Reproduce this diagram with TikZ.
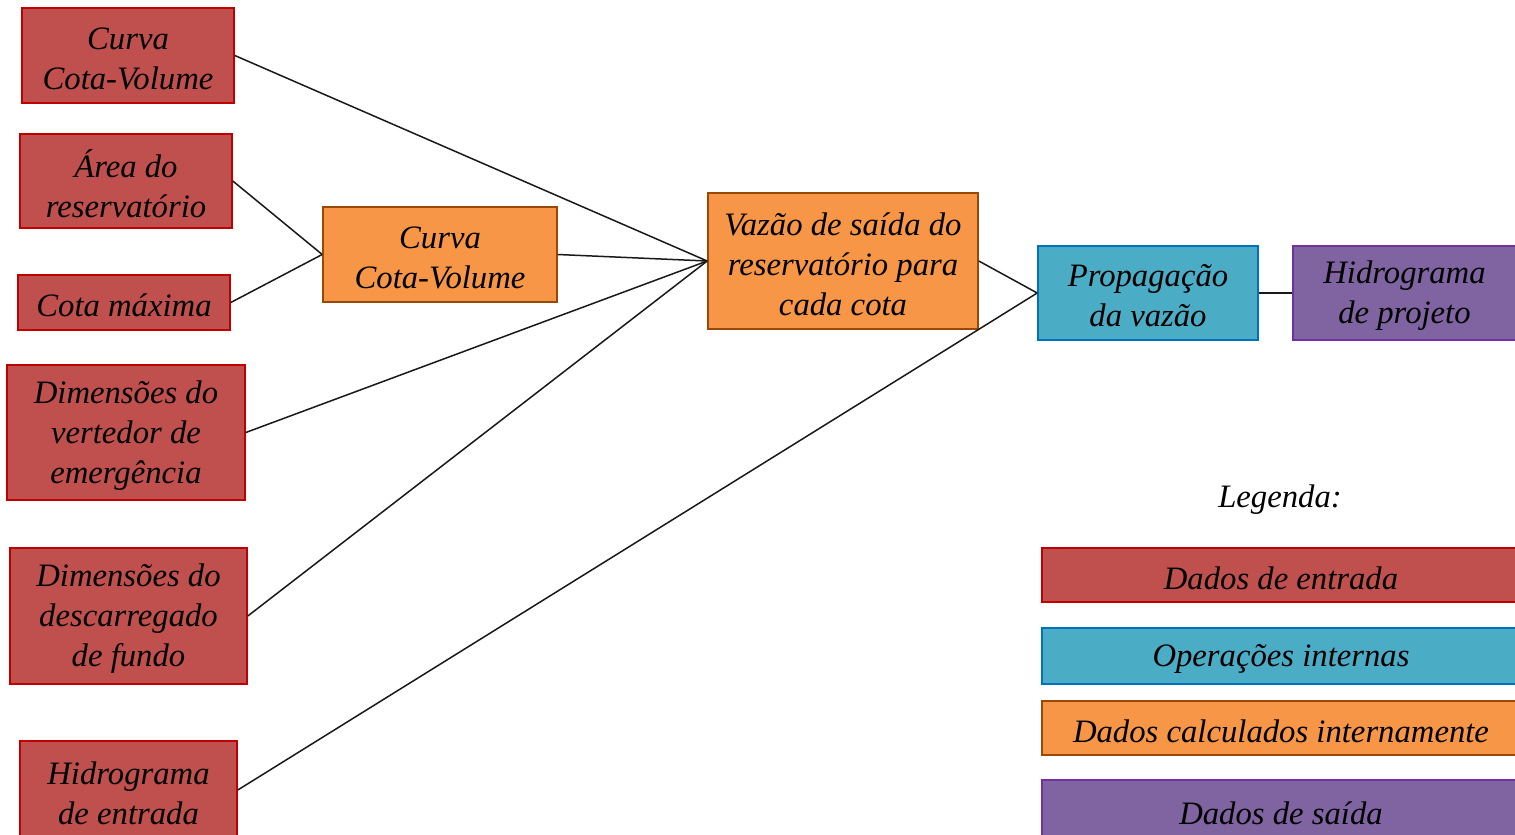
\documentclass[tikz,border=0pt]{standalone}
\usepackage{fontspec}
\setmainfont{Liberation Serif}
\begin{document}
\begin{tikzpicture}[x=1pt,y=-1pt,
  bt/.style={align=center, inner sep=0pt, yshift=-3pt,
    font=\fontsize{32.7}{40}\selectfont\itshape},
  box/.style={draw, line width=1.6pt, inner sep=0pt},
  inbox/.style={box, fill=inred, draw=inredd},
  calcbox/.style={box, fill=calcor, draw=calcord},
  opbox/.style={box, fill=opbl, draw=opbld},
  outbox/.style={box, fill=outpu, draw=outpud},
  conn/.style={line width=1.5pt, black!90}]
\definecolor{inred}{HTML}{C0504D}
\definecolor{inredd}{HTML}{C00000}
\definecolor{calcor}{HTML}{F79646}
\definecolor{calcord}{HTML}{984807}
\definecolor{opbl}{HTML}{4BACC6}
\definecolor{opbld}{HTML}{0070C0}
\definecolor{outpu}{HTML}{8064A2}
\definecolor{outpud}{HTML}{7030A0}
\useasboundingbox (0,0) rectangle (1515,835);
\fill[white] (0,0) rectangle (1515,835);
% input boxes
\node[inbox, minimum width=212pt, minimum height=95pt, label={[bt]center:{Curva\\Cota-Volume}}] (a1) at (128,55.5) {};
\node[inbox, minimum width=212pt, minimum height=94pt, label={[bt]center:{Área do\\reservatório}}] (a2) at (126,181) {};
\node[inbox, minimum width=212pt, minimum height=55pt, label={[bt]center:{Cota máxima}}] (a3) at (124,302.5) {};
\node[inbox, minimum width=238pt, minimum height=135pt, label={[bt]center:{Dimensões do\\vertedor de\\emergência}}] (a4) at (126,432.5) {};
\node[inbox, minimum width=237pt, minimum height=136pt, label={[bt]center:{Dimensões do\\descarregado\\de fundo}}] (a5) at (128.5,616) {};
\node[inbox, minimum width=217pt, minimum height=98pt, label={[bt]center:{Hidrograma\\de entrada}}] (a6) at (128.5,790) {};
% calculated
\node[calcbox, minimum width=234pt, minimum height=95pt, label={[bt]center:{Curva\\Cota-Volume}}] (b) at (440,254.5) {};
\node[calcbox, minimum width=270pt, minimum height=136pt, label={[bt]center:{Vazão de saída do\\reservatório para\\cada cota}}] (c) at (843,261) {};
% operation
\node[opbox, minimum width=220pt, minimum height=94pt, label={[bt]center:{Propagação\\da vazão}}] (d) at (1148,293) {};
% output
\node[outbox, minimum width=223pt, minimum height=94pt, label={[bt]center:{Hidrograma\\de projeto}}] (e) at (1404.5,293) {};
% connectors
\draw[conn] (a1.east) -- (c.west);
\draw[conn] (a2.east) -- (b.west);
\draw[conn] (a3.east) -- (b.west);
\draw[conn] (b.east) -- (c.west);
\draw[conn] (a4.east) -- (c.west);
\draw[conn] (a5.east) -- (c.west);
\draw[conn] (c.east) -- (d.west);
\draw[conn] (a6.east) -- (d.west);
\draw[conn] (d.east) -- (e.west);
% legend
\node[bt] (leg) at (1280,497) {Legenda:};
\node[inbox, minimum width=478pt, minimum height=54pt, label={[bt]center:{Dados de entrada}}] (l1) at (1281,575) {};
\node[opbox, minimum width=478pt, minimum height=56pt, label={[bt]center:{Operações internas}}] (l2) at (1281,656) {};
\node[calcbox, minimum width=478pt, minimum height=54pt, label={[bt]center:{Dados calculados internamente}}] (l3) at (1281,728) {};
\node[outbox, minimum width=478pt, minimum height=60pt, label={[bt]center:{Dados de saída}}] (l4) at (1281,810) {};
\end{tikzpicture}
\end{document}
